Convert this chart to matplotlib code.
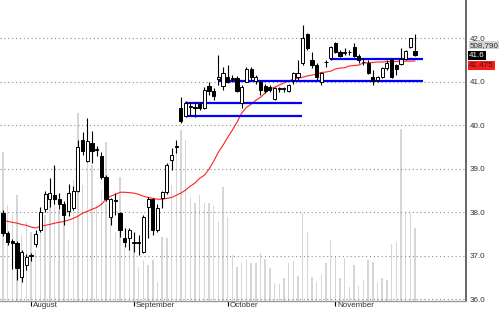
import matplotlib
matplotlib.use("Agg")
import matplotlib.pyplot as plt
import numpy as np

plt.rcParams['font.family'] = ['Liberation Sans', 'DejaVu Sans']

# Daily bars, mid July to mid November
opens = [37.98, 37.52, 37.33, 37.29, 36.51, 36.78, 37.00, 37.27, 37.59, 38.07,
         38.30, 38.40, 38.30, 38.18, 38.02, 38.10, 38.48, 39.66, 39.17, 39.59,
         39.45, 39.29, 38.80, 37.90, 38.28, 37.98, 37.40, 37.40, 37.30, 37.32,
         37.08, 38.11, 38.30, 37.59, 38.32, 38.46, 39.20, 39.50, 40.39, 40.21,
         40.42, 40.42, 40.48, 40.39, 40.90, 40.78, 41.06, 40.90, 41.10, 41.08,
         41.08, 40.51, 41.00, 41.28, 41.01, 40.99, 40.90, 40.87, 40.60, 40.83,
         40.84, 40.78, 41.03, 41.10, 41.43, 42.09, 41.49, 41.38, 40.99, 41.44,
         41.54, 41.89, 41.68, 41.66, 41.67, 41.79, 41.59, 41.45, 41.43, 41.10,
         41.03, 41.10, 41.31, 41.52, 41.38, 41.40, 41.52, 41.79, 41.70]
highs = [38.05, 37.56, 37.38, 37.34, 37.13, 37.05, 37.06, 37.60, 38.12, 38.50,
         38.78, 39.08, 38.45, 38.25, 38.65, 38.60, 39.65, 39.84, 40.17, 39.86,
         39.52, 39.38, 38.85, 38.32, 38.44, 38.00, 37.63, 37.63, 37.55, 37.47,
         37.93, 38.34, 38.32, 38.20, 38.50, 39.13, 39.47, 39.66, 40.64, 40.55,
         40.53, 40.53, 40.53, 40.87, 40.99, 40.85, 41.60, 41.33, 41.38, 41.15,
         41.12, 40.92, 41.33, 41.33, 41.15, 41.03, 40.94, 40.92, 40.87, 40.88,
         40.88, 40.95, 41.22, 41.49, 42.30, 42.11, 41.68, 41.43, 41.22, 41.49,
         41.82, 41.91, 41.72, 41.77, 41.72, 41.89, 41.63, 41.54, 41.49, 41.26,
         41.13, 41.33, 41.49, 41.54, 41.40, 41.77, 41.72, 42.00, 42.09]
lows = [37.45, 37.24, 36.70, 36.44, 36.40, 36.68, 36.88, 37.20, 37.55, 38.00,
        38.12, 38.20, 38.08, 37.70, 37.92, 38.05, 38.46, 39.31, 39.15, 39.13,
        39.30, 38.76, 38.27, 37.70, 37.93, 37.43, 37.20, 37.13, 37.08, 37.01,
        37.06, 37.40, 37.47, 37.55, 38.10, 38.43, 38.97, 39.36, 40.05, 40.18,
        40.23, 40.18, 40.34, 40.38, 40.69, 40.57, 40.92, 40.80, 40.97, 40.99,
        40.76, 40.39, 40.99, 41.03, 40.94, 40.69, 40.74, 40.76, 40.57, 40.76,
        40.76, 40.76, 40.94, 41.03, 41.38, 41.72, 41.31, 41.03, 40.92, 41.33,
        41.49, 41.66, 41.56, 41.61, 41.61, 41.56, 41.43, 41.38, 41.17, 40.92,
        40.99, 41.08, 41.26, 41.08, 41.15, 41.38, 41.49, 41.77, 41.59]
closes = [37.52, 37.31, 37.29, 36.71, 37.08, 36.97, 37.02, 37.50, 38.00, 38.42,
          38.44, 38.30, 38.18, 37.93, 38.45, 38.50, 39.49, 39.40, 39.63, 39.40,
          39.43, 38.80, 38.30, 38.30, 38.25, 37.59, 37.31, 37.59, 37.32, 37.30,
          37.89, 38.30, 37.59, 38.09, 38.46, 39.08, 39.31, 39.52, 40.09, 40.51,
          40.44, 40.40, 40.39, 40.80, 40.78, 40.67, 41.10, 41.20, 40.99, 41.06,
          40.78, 40.87, 41.28, 41.10, 41.10, 40.80, 40.78, 40.80, 40.85, 40.85,
          40.86, 40.92, 41.20, 41.20, 42.00, 41.77, 41.38, 41.10, 41.20, 41.46,
          41.79, 41.68, 41.59, 41.68, 41.68, 41.59, 41.49, 41.44, 41.20, 41.01,
          41.10, 41.31, 41.43, 41.10, 41.29, 41.52, 41.70, 42.00, 41.60]
volumes = [1038500, 669100, 599400, 738800, 460000, 550600, 480900, 355500, 508800, 599400,
           704000, 787600, 634300, 669100, 425200, 843400, 1310400, 808500, 1157000, 947900,
           669100, 773700, 1108200, 599400, 480900, 864300, 369400, 494900, 390300, 237000,
           285800, 250900, 285800, 132400, 446100, 439100, 808500, 1066400, 1191900, 1122200,
           717900, 683100, 738800, 683100, 683100, 662200, 550600, 794600, 585500, 320600,
           237000, 264900, 285800, 264900, 264900, 334600, 292700, 230000, 125500, 118500,
           160300, 264900, 278800, 174300, 613400, 480900, 167300, 132400, 181200, 264900,
           425200, 313700, 160300, 299700, 97600, 250900, 104600, 146400, 285800, 271800,
           125500, 160300, 146400, 397300, 411200, 1198800, 613400, 613400, 508790]
moving_avg = [37.82, 37.79, 37.77, 37.75, 37.72, 37.70, 37.66, 37.64, 37.68, 37.70,
              37.72, 37.75, 37.77, 37.79, 37.82, 37.86, 37.91, 37.98, 38.02, 38.07,
              38.11, 38.18, 38.30, 38.37, 38.41, 38.46, 38.46, 38.45, 38.44, 38.41,
              38.37, 38.34, 38.32, 38.30, 38.30, 38.32, 38.34, 38.39, 38.44, 38.51,
              38.60, 38.67, 38.78, 38.85, 38.99, 39.17, 39.38, 39.54, 39.72, 39.89,
              40.07, 40.28, 40.41, 40.48, 40.57, 40.64, 40.74, 40.83, 40.87, 40.92,
              40.97, 41.01, 41.06, 41.08, 41.10, 41.13, 41.15, 41.17, 41.21, 41.22,
              41.24, 41.29, 41.31, 41.32, 41.36, 41.37, 41.38, 41.43, 41.43, 41.44,
              41.45, 41.45, 41.46, 41.46, 41.46, 41.47, 41.47, 41.47, 41.475]

# first trading day of each month (bar index) and its label
month_starts = [6, 28, 48, 71]
month_names = ['August', 'September', 'October', 'November']

# support / resistance lines: level, first bar, last bar
line_levels = [40.51, 40.21, 41.01, 41.52]
line_starts = [38.9, 38.9, 45.9, 69.9]
line_ends = [63.9, 63.9, 89.7, 89.7]

price_ticks = [36.0, 37.0, 38.0, 39.0, 40.0, 41.0, 42.0]


def main():
    fig = plt.figure(figsize=(5, 3.12), dpi=100)
    ax_v = fig.add_axes([0, 0.034, 0.932, 0.966])
    ax = ax_v.twinx()
    ax.set_zorder(ax_v.get_zorder() + 1)
    ax.patch.set_visible(False)

    x = np.arange(len(closes))
    o = np.array(opens)
    c = np.array(closes)

    # volume in the background
    ax_v.bar(x, volumes, width=0.3, color='#d6d6d6', linewidth=0)
    ax_v.set_ylim(0, 2098000)
    ax_v.set_yticks([])
    ax_v.set_xticks([])
    for s in ax_v.spines.values():
        s.set_visible(False)

    # dotted price grid
    for p in price_ticks:
        ax.axhline(p, color='#8c8c8c', lw=0.8, ls=(0, (1, 2.5)), zorder=1)

    ax.plot(x, moving_avg, color='#ff2020', lw=0.8, zorder=2)

    for lvl, a, b in zip(line_levels, line_starts, line_ends):
        ax.hlines(lvl, a, b, color='#0000ff', lw=1.6, zorder=3)

    # candles
    ax.vlines(x, lows, highs, color='black', lw=0.8, zorder=4)
    bottoms = np.minimum(o, c)
    heights = np.maximum(np.abs(c - o), 0.005)
    colors = ['white' if cl >= op else 'black' for op, cl in zip(o, c)]
    ax.bar(x, heights, bottom=bottoms, width=0.68, color=colors,
           edgecolor='black', linewidth=0.7, zorder=5)

    ax.set_xlim(-0.64, 98.9)
    ax.set_ylim(35.954, 42.874)

    ax.yaxis.tick_right()
    ax.set_yticks(price_ticks)
    ax.set_yticklabels([f'{p:.1f}' for p in price_ticks])
    ax.tick_params(axis='y', length=0, pad=2.5, labelsize=5.8, labelcolor='#333333')

    # month ticks: short mark, label just right of it
    ax.set_xticks(month_starts)
    ax.set_xticklabels([])
    ax.tick_params(axis='x', length=3.5, width=0.7, color='#555555')
    xtrans = ax.get_xaxis_transform()
    for m, name in zip(month_starts, month_names):
        ax.text(m + 0.35, -0.003, name, transform=xtrans, fontsize=5.8,
                color='#333333', ha='left', va='top', clip_on=False)

    for name in ['top', 'left']:
        ax.spines[name].set_visible(False)
    ax.spines['right'].set_color('#666666')
    ax.spines['right'].set_linewidth(1.4)
    ax.spines['bottom'].set_color('#9a9a9a')
    ax.spines['bottom'].set_linewidth(1.0)

    # value boxes at the right edge
    trans = ax.get_yaxis_transform()
    last = closes[-1]
    ax.text(1.007, last + 0.235, f'{volumes[-1]:,}', transform=trans, fontsize=5.8,
            color='#333333', va='center', ha='left', clip_on=False,
            bbox=dict(boxstyle='square,pad=0.08', fc='#d4d4d4', ec='none'))
    ax.text(1.007, last, f'{last:.1f}', transform=trans, fontsize=5.8,
            color='white', va='center', ha='left', clip_on=False,
            bbox=dict(boxstyle='square,pad=0.12', fc='black', ec='none'))
    ax.text(1.007, last - 0.24, f'{moving_avg[-1]:.3f}', transform=trans, fontsize=5.8,
            color='#222222', va='center', ha='left', clip_on=False,
            bbox=dict(boxstyle='square,pad=0.12', fc='#ff1a1a', ec='none'))

    fig.savefig('out.png', dpi=100, facecolor='white')
    plt.close(fig)


if __name__ == '__main__':
    main()
